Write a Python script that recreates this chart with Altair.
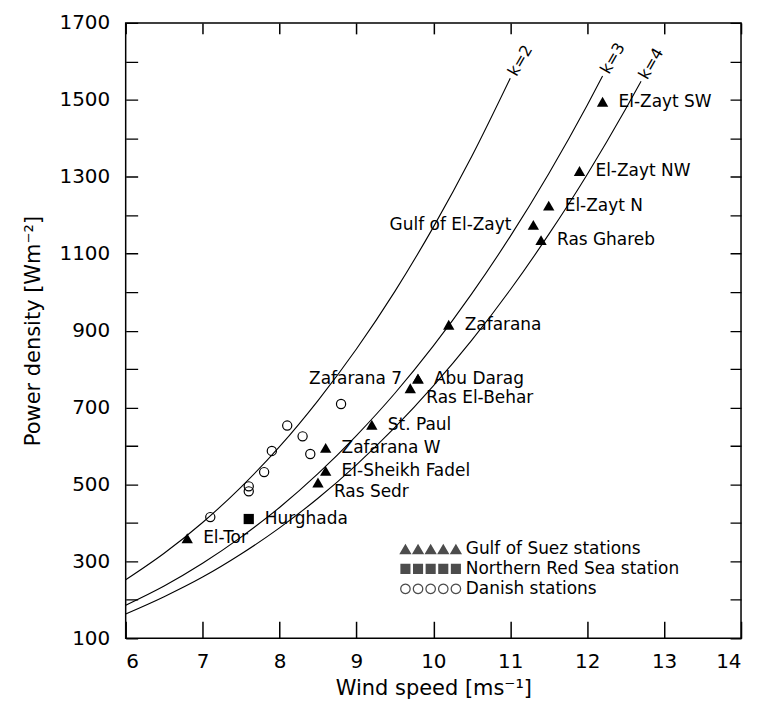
import math
import altair as alt
import pandas as pd

# ---------------- data ----------------
gulf_names = ["El-Tor", "Ras Sedr", "El-Sheikh Fadel", "Zafarana W", "St. Paul",
              "Ras El-Behar", "Abu Darag", "Zafarana 7", "Zafarana",
              "Gulf of El-Zayt", "Ras Ghareb", "El-Zayt N", "El-Zayt NW", "El-Zayt SW"]
gulf_speed = [6.8, 8.5, 8.6, 8.6, 9.2, 9.7, 9.8, 9.8, 10.2, 11.3, 11.4, 11.5, 11.9, 12.2]
gulf_power = [360, 505, 535, 595, 655, 750, 775, 775, 915, 1175, 1135, 1225, 1315, 1495]

redsea_names = ["Hurghada"]
redsea_speed = [7.6]
redsea_power = [410]

danish_speed = [7.1, 7.6, 7.6, 7.8, 7.9, 8.1, 8.3, 8.4, 8.8]
danish_power = [415, 495, 482, 532, 587, 653, 625, 579, 709]

group_names = ["Gulf of Suez stations", "Northern Red Sea station", "Danish stations"]

# Weibull power-density curves
k2_speed = [6.0, 6.5, 7.0, 7.5, 8.0, 8.5, 9.0, 9.5, 10.0, 10.5, 11.0]
k2_power = [252, 321, 401, 493, 598, 718, 852, 1002, 1169, 1353, 1556]
k3_speed = [6.0, 6.5, 7.0, 7.5, 8.0, 8.5, 9.0, 9.5, 10.0, 10.5, 11.0, 11.5, 12.0, 12.2]
k3_power = [186, 236, 295, 363, 440, 528, 627, 737, 860, 996, 1145, 1308, 1486, 1562]
k4_speed = [6.0, 6.5, 7.0, 7.5, 8.0, 8.5, 9.0, 9.5, 10.0, 10.5, 11.0, 11.5, 12.0, 12.5, 12.7]
k4_power = [163, 208, 259, 319, 387, 464, 551, 648, 756, 875, 1006, 1150, 1306, 1476, 1548]
curve_names = ["k=2", "k=3", "k=4"]

x_ticks = [6, 7, 8, 9, 10, 11, 12, 13, 14]
y_ticks = list(range(100, 1701, 100))

# ---------------- tables ----------------
stations = pd.DataFrame(
    [{"name": n, "speed": s, "power": p, "group": group_names[0]}
     for n, s, p in zip(gulf_names, gulf_speed, gulf_power)]
    + [{"name": n, "speed": s, "power": p, "group": group_names[1]}
       for n, s, p in zip(redsea_names, redsea_speed, redsea_power)]
    + [{"name": "", "speed": s, "power": p, "group": group_names[2]}
       for s, p in zip(danish_speed, danish_power)]
)

# label placement (style)
placement = {"Ras Sedr": "below", "Ras El-Behar": "below",
             "Zafarana 7": "left", "Gulf of El-Zayt": "left2"}
stations["place"] = [placement.get(n, "right") for n in stations["name"]]

curves = pd.concat([
    pd.DataFrame({"speed": sp, "power": pw, "k": nm})
    for sp, pw, nm in zip([k2_speed, k3_speed, k4_speed],
                          [k2_power, k3_power, k4_power], curve_names)
])
curve_ends = pd.DataFrame({
    "speed": [k2_speed[-1], k3_speed[-1], k4_speed[-1]],
    "power": [k2_power[-1], k3_power[-1], k4_power[-1]],
    "k": curve_names,
})

FONT = "DejaVu Sans"
xs = alt.Scale(domain=[6, 14], nice=False, zero=False)
ys = alt.Scale(domain=[100, 1700], nice=False, zero=False)

# main axes (labels + titles; y ticks drawn as short grid dashes at both sides)
x_main = alt.X("speed:Q", scale=xs,
               axis=alt.Axis(values=x_ticks, title="Wind speed [ms⁻¹]", grid=False,
                             labelPadding=13, titlePadding=6, format="d"))
y_main = alt.Y("power:Q", scale=ys,
               axis=alt.Axis(values=y_ticks, title="Power density [Wm⁻²]",
                             grid=True, gridDash=[12, 594, 11, 1000],
                             labelExpr="datum.value % 200 == 100 ? datum.label : ''",
                             labelPadding=16, titlePadding=16, format="d"))
x_plain = alt.X("speed:Q", scale=xs, axis=None)
y_plain = alt.Y("power:Q", scale=ys, axis=None)

# inward x ticks (bottom and top) as offset tick-only axes
tick_style = dict(labels=False, domain=False, grid=False, title=None, ticks=True,
                  tickColor="black", tickWidth=1.5)
x_bottom_ticks = alt.X("speed:Q", scale=xs,
                       axis=alt.Axis(values=x_ticks, orient="bottom", offset=-17,
                                     tickSize=17, **tick_style))
x_top_ticks = alt.X("speed:Q", scale=xs,
                    axis=alt.Axis(values=x_ticks, orient="top", offset=-11,
                                  tickSize=11, **tick_style))


# ---------------- legend symbol paths (rows of five markers) ----------------
def tri_row():
    parts = []
    for i in range(5):
        c = i * 2.3
        parts.append(f"M{c:.3f},-0.95L{c + 1.12:.3f},0.95L{c - 1.12:.3f},0.95Z")
    return "".join(parts)


def sq_row():
    parts = []
    for i in range(5):
        c = i * 2.3
        h = 0.92
        parts.append(f"M{c - h:.3f},{-h}L{c + h:.3f},{-h}L{c + h:.3f},{h}L{c - h:.3f},{h}Z")
    return "".join(parts)


def ring_row():
    parts = []
    n = 28
    for i in range(5):
        c = i * 2.3
        ro, ri = 0.97, 0.74
        pts = [(c + ro * math.cos(2 * math.pi * j / n), ro * math.sin(2 * math.pi * j / n)) for j in range(n)]
        parts.append("M" + "L".join(f"{a:.3f},{b:.3f}" for a, b in pts) + "Z")
        pts = [(c + ri * math.cos(-2 * math.pi * j / n), ri * math.sin(-2 * math.pi * j / n)) for j in range(n)]
        parts.append("M" + "L".join(f"{a:.3f},{b:.3f}" for a, b in pts) + "Z")
    return "".join(parts)


# ---------------- layers ----------------
lines = alt.Chart(curves).mark_line(color="black", strokeWidth=1.1, interpolate="monotone").encode(
    x=x_main, y=y_main, detail="k:N")

tick_layer_a = alt.Chart(curves).mark_point(opacity=0).encode(x=x_bottom_ticks, y=y_plain)
tick_layer_b = alt.Chart(curves).mark_point(opacity=0).encode(x=x_top_ticks, y=y_plain)

k_labels = alt.Chart(curve_ends).mark_text(
    font=FONT, fontSize=16, angle=300, align="left", baseline="middle", dx=4, color="black"
).encode(x=x_plain, y=y_plain, text="k:N")

tri = alt.Chart(stations).transform_filter(
    alt.datum.group == group_names[0]).mark_point(
    shape="triangle-up", filled=True, color="black", size=130, opacity=1, strokeWidth=0
).encode(x=x_plain, y=y_plain)

sq = alt.Chart(stations).transform_filter(
    alt.datum.group == group_names[1]).mark_point(
    shape="square", filled=True, color="black", size=105, opacity=1, strokeWidth=0
).encode(x=x_plain, y=y_plain)

circ = alt.Chart(stations).transform_filter(
    alt.datum.group == group_names[2]).mark_point(
    shape="circle", filled=False, color="black", size=85, opacity=1, strokeWidth=1.2
).encode(x=x_plain, y=y_plain)

offsets = {"right": (16, 0, "left"), "below": (16, 10, "left"),
           "left": (-16, 0, "right"), "left2": (-22, 0, "right")}
text_layers = []
for key, (dx, dy, al) in offsets.items():
    text_layers.append(
        alt.Chart(stations).transform_filter(
            (alt.datum.place == key) & (alt.datum.name != "")
        ).mark_text(font=FONT, fontSize=17, align=al, baseline="middle",
                    dx=dx, dy=dy, color="black").encode(x=x_plain, y=y_plain, text="name:N")
    )

legend_layer = alt.Chart(stations).transform_filter("false").mark_point(
    filled=True, color="black", strokeWidth=0
).encode(
    x=x_plain, y=y_plain,
    shape=alt.Shape("group:N",
                    scale=alt.Scale(domain=group_names, range=[tri_row(), sq_row(), ring_row()]),
                    legend=alt.Legend(title=None, orient="none", legendX=272, legendY=519,
                                      symbolSize=121, symbolStrokeWidth=0,
                                      symbolFillColor="black", labelOffset=52,
                                      labelFont=FONT, labelFontSize=17, labelColor="black",
                                      labelLimit=400, rowPadding=2))
)

chart = alt.layer(
    lines, tick_layer_a, tick_layer_b, k_labels, tri, sq, circ, *text_layers, legend_layer
).resolve_axis(x="independent", y="independent").properties(
    width=617, height=617,
    autosize=alt.AutoSizeParams(type="none"),
    padding={"left": 118, "top": 14, "right": 8, "bottom": 62},
).configure_view(
    stroke="black", strokeWidth=1.5
).configure_axis(
    domain=False, ticks=False, gridColor="black", gridWidth=1.3, gridOpacity=1,
    labelFont=FONT, labelFontSize=20, labelColor="black",
    titleFont=FONT, titleFontSize=21, titleFontWeight="normal", titleColor="black"
)

chart.save("out.html", embed_options={"renderer": "svg", "actions": False})
